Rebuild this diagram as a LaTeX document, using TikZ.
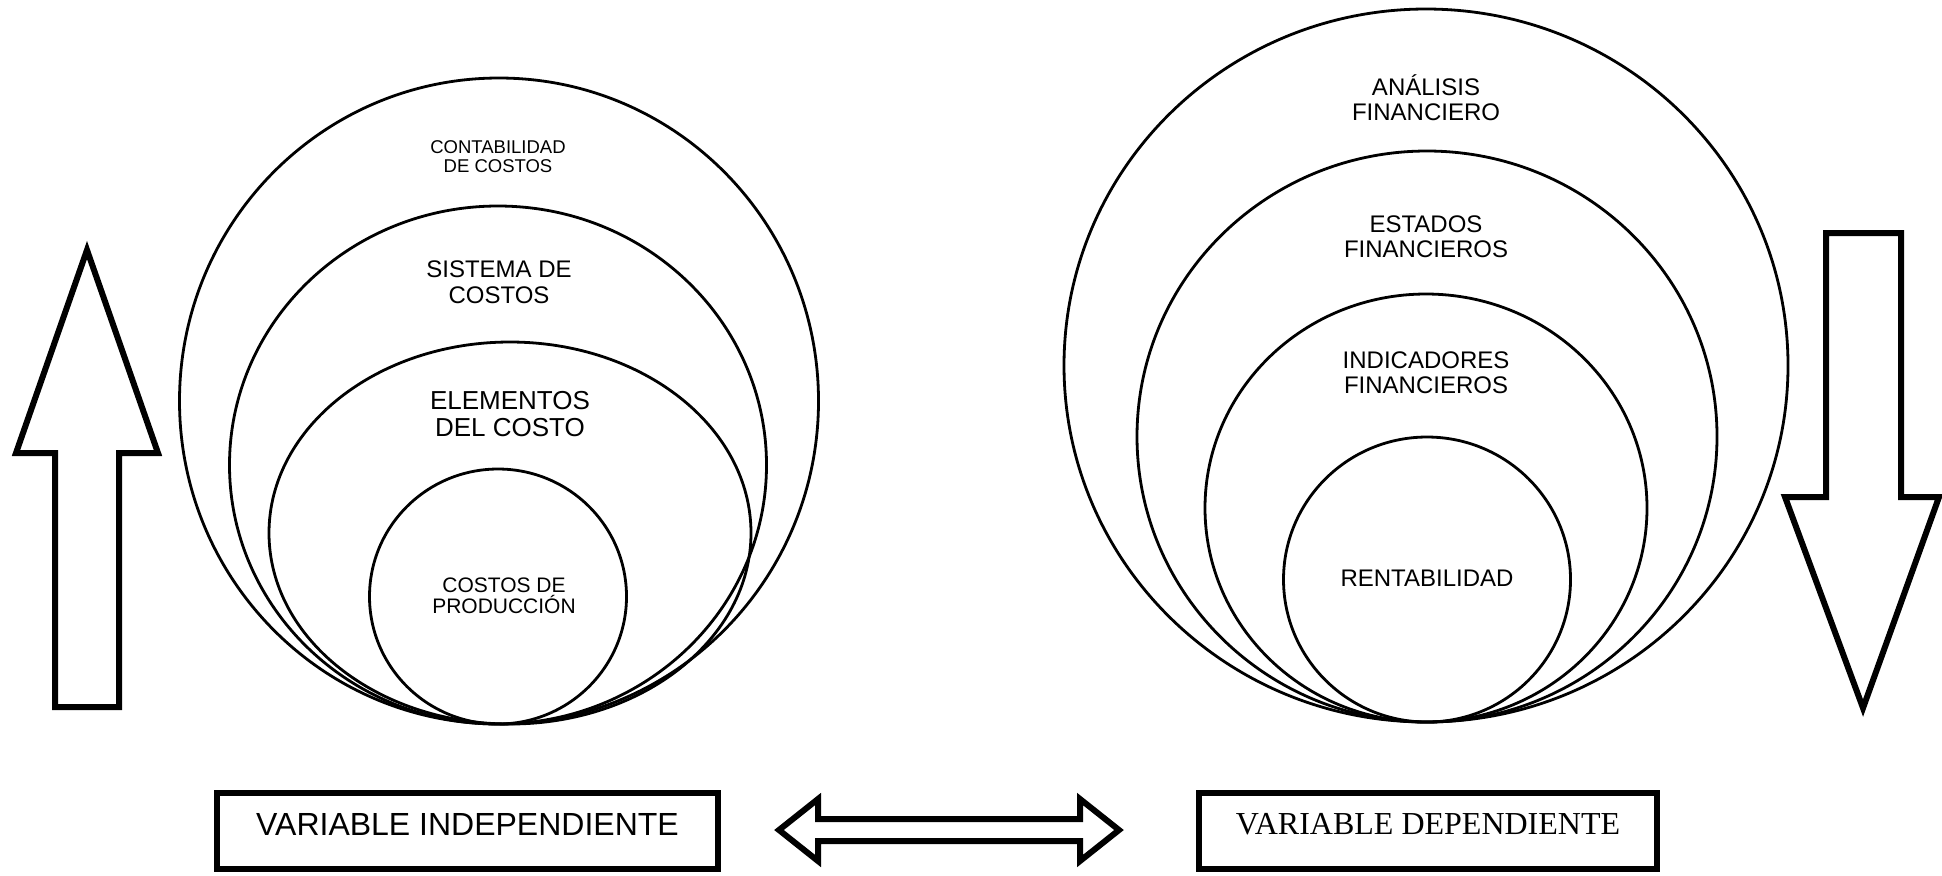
\documentclass[tikz,border=0pt]{standalone}
\usepackage{fontspec}
\setmainfont{Liberation Sans}
\newfontfamily\timesfont{Liberation Serif}
\usepackage{tikz}
\usetikzlibrary{shapes.geometric, positioning}

\begin{document}
\begin{tikzpicture}[x=0.5pt, y=-0.5pt,
	lvl/.style={ellipse, draw=black, line width=1.4pt, inner sep=0pt},
	lbl/.style={align=center, inner sep=0pt},
	varbox/.style={draw=black, line width=3pt, minimum height=38pt, inner sep=0pt, text depth=7pt, font=\fontsize{16}{18}\selectfont},
	blockarrow/.style={draw=black, line width=3pt, line join=miter}]
	\useasboundingbox (0,0) rectangle (1942,875);
	% variable independiente
	\node[lvl, minimum width=319.5pt, minimum height=323pt] (cc) at (499,401) {};
	\node[lvl, minimum width=268.5pt, minimum height=259pt] (sc) at (498,465) {};
	\node[lvl, minimum width=241pt, minimum height=191pt] (ec) at (510,533) {};
	\node[lvl, minimum width=128.5pt, minimum height=127.5pt] (cp) at (498,596.5) {};
	\node[lbl, font=\fontsize{9.25}{9.5}\selectfont] (cctxt) at (498,157) {CONTABILIDAD\\DE COSTOS};
	\node[lbl, font=\fontsize{12}{13}\selectfont] (sctxt) at (499,282) {SISTEMA DE\\COSTOS};
	\node[lbl, font=\fontsize{13}{13.5}\selectfont] (ectxt) at (510,414) {ELEMENTOS\\DEL COSTO};
	\node[lbl, font=\fontsize{10.5}{10.5}\selectfont] (cptxt) at (504,596) {COSTOS DE\\PRODUCCIÓN};
	% variable dependiente
	\node[lvl, minimum width=362pt, minimum height=356.5pt] (af) at (1426,365.5) {};
	\node[lvl, minimum width=290pt, minimum height=285.5pt] (ef) at (1427,436.5) {};
	\node[lvl, minimum width=221pt, minimum height=214pt] (if) at (1426,508) {};
	\node[lvl, minimum width=143.5pt, minimum height=142.5pt] (rt) at (1427,579.5) {};
	\node[lbl, font=\fontsize{12}{12.5}\selectfont] (aftxt) at (1426,98) {ANÁLISIS\\FINANCIERO};
	\node[lbl, font=\fontsize{12}{12.5}\selectfont] (eftxt) at (1426,237) {ESTADOS\\FINANCIEROS};
	\node[lbl, font=\fontsize{12}{12.5}\selectfont] (iftxt) at (1426,373) {INDICADORES\\FINANCIEROS};
	\node[lbl, font=\fontsize{12}{12.5}\selectfont] (rttxt) at (1427,578) {RENTABILIDAD};
	% flechas
	\draw[blockarrow] (55,707) -- (55,453) -- (16,453) -- (87,250) -- (158,453) -- (119,453) -- (119,707) -- cycle;
	\draw[blockarrow] (1826,233) -- (1901,233) -- (1901,497) -- (1939,497) -- (1863,708) -- (1785,497) -- (1826,497) -- cycle;
	% cuadros
	\node[varbox, minimum width=250.5pt] (indep) at (467.5,831) {VARIABLE INDEPENDIENTE};
	\node[varbox, minimum width=229pt, font=\timesfont\fontsize{16}{18}\selectfont] (dep) at (1428,831) {VARIABLE DEPENDIENTE};
	\draw[blockarrow] (779,830) -- (818,799) -- (818,819) -- (1080,819) -- (1080,799) -- (1119,830)
		-- (1080,861) -- (1080,841) -- (818,841) -- (818,861) -- cycle;
\end{tikzpicture}
\end{document}
